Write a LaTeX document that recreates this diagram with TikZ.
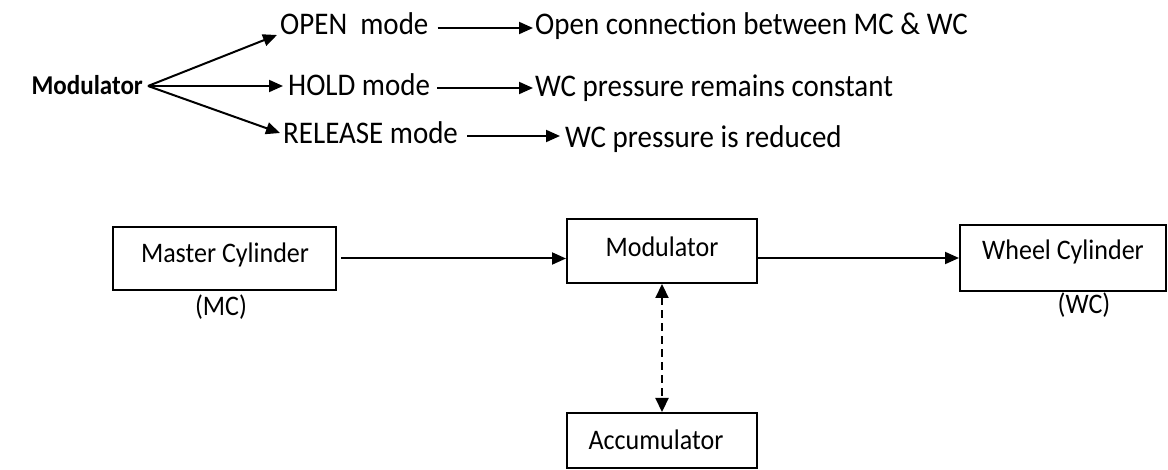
\documentclass[tikz,border=0pt]{standalone}
\usepackage{fontspec}
\setmainfont{Carlito}[FakeStretch=0.92]
\usetikzlibrary{arrows.meta,calc}
\begin{document}
\begin{tikzpicture}[x=1pt,y=-1pt,
  arr/.style={line width=2pt,-{Triangle[length=14pt,width=12pt]}},
  darr/.style={line width=2.2pt,{Triangle[length=14pt,width=13pt]}-{Triangle[length=14pt,width=13pt]},dash pattern=on 8pt off 5pt},
  toptext/.style={inner sep=0pt,anchor=west,font=\fontsize{31.5}{32}\selectfont,text height=21pt,text depth=6pt},
  blk/.style={draw,line width=2pt,inner sep=0pt,font=\fontsize{28.3}{30}\selectfont},
  lbl/.style={inner sep=0pt,font=\fontsize{28.3}{30}\selectfont}]
\useasboundingbox (0,0) rectangle (1168,470);
% top fan
\node[inner sep=0pt,anchor=east,font=\fontsize{27.2}{28}\selectfont\bfseries,text height=18pt,text depth=5pt] (head) at (143,88) {Modulator};
\coordinate (apex) at (148,86);
\node[toptext] (open) at (280,27) {OPEN\ \ mode};
\node[toptext] (hold) at (288,88) {HOLD mode};
\node[toptext] (rel) at (283,136) {RELEASE mode};
\node[toptext] (oc) at (535,27) {Open connection between MC \& WC};
\node[toptext] (wcc) at (535,89) {WC pressure remains constant};
\node[toptext] (wcr) at (565,140) {WC pressure is reduced};
\draw[arr] (apex) -- ([xshift=-3pt,yshift=-8pt]open.west);
\draw[arr] (apex) -- ([xshift=-5pt,yshift=2pt]hold.west);
\draw[arr] (apex) -- ([xshift=-3pt,yshift=3pt]rel.west);
\draw[arr] ([xshift=9pt,yshift=-1pt]open.east) -- ([xshift=-2pt,yshift=-1pt]oc.west);
\draw[arr] ([xshift=7pt]hold.east) -- ([xshift=-2pt,yshift=1pt]wcc.west);
\draw[arr] ([xshift=9pt]rel.east) -- ([xshift=-5pt,yshift=4pt]wcr.west);
% bottom blocks
\node[blk,minimum width=223pt,minimum height=63pt] (mc) at (224.5,258.5) {};
\node[lbl] at (225,255) {Master Cylinder};
\node[lbl] (mcl) at (221,307) {(MC)};
\node[blk,minimum width=190pt,minimum height=64pt] (mod) at (662,251) {};
\node[lbl] at (662,247) {Modulator};
\node[blk,minimum width=206pt,minimum height=66pt] (wc) at (1063,258) {};
\node[lbl] at (1063,252) {Wheel Cylinder};
\node[lbl] (wcl) at (1084,305) {(WC)};
\node[blk,minimum width=190pt,minimum height=55pt] (acc) at (662,440.5) {};
\node[lbl] at (656,440) {Accumulator};
\draw[arr] ([xshift=4pt]mc.east) -- (mc.east -| mod.west);
\draw[arr] (mod.east |- wc.west) -- (wc.west);
\draw[darr] (mod.south) -- (acc.north);
\end{tikzpicture}
\end{document}
